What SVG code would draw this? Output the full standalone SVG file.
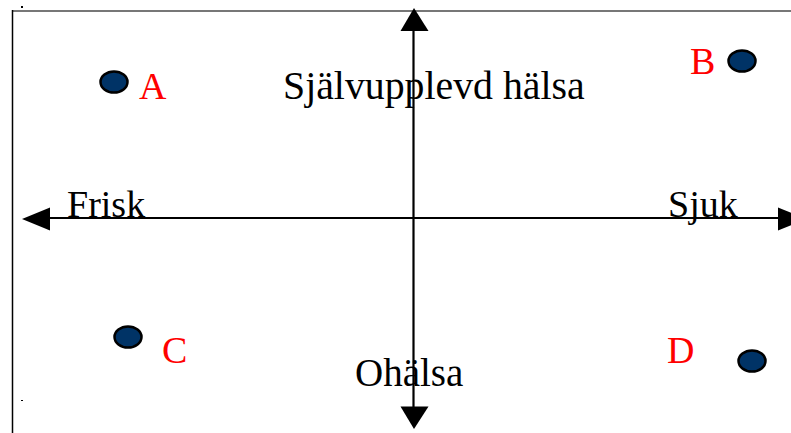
<svg xmlns="http://www.w3.org/2000/svg" width="791" height="433" viewBox="0 0 791 433">
<style>
.axis{stroke:#000;stroke-width:2.2;fill:none}
.head{fill:#000}
.dot{fill:#003366;stroke:#000;stroke-width:2.5}
.lbl{font-family:"Liberation Serif","Times New Roman",serif;font-size:38px;fill:#ff0000}
.txt{font-family:"Liberation Serif","Times New Roman",serif;font-size:39px;fill:#000}
</style>
<rect width="791" height="433" fill="#fff"/>
<g id="frame">
<line x1="12" y1="11" x2="791" y2="11" stroke="#777" stroke-width="2"/>
<line x1="12.5" y1="10" x2="12.5" y2="433" stroke="#000" stroke-width="1.5"/>
<rect x="21" y="6" width="2" height="2" fill="#000"/>
<rect x="21" y="400" width="2" height="1" fill="#000"/>
</g>
<g id="connectors">
<line class="axis" x1="48" y1="218" x2="780" y2="218"/>
<polygon class="head" points="22,219 50,207.5 50,230.5"/>
<polygon class="head" points="806,219 778,207.5 778,230.5"/>
<line class="axis" x1="413.5" y1="29" x2="413.5" y2="409"/>
<polygon class="head" points="414,8 400.5,31 428.5,31"/>
<polygon class="head" points="414,429 400.5,406.5 428.5,406.5"/>
</g>
<g id="label-y-top"><text class="txt" x="283" y="99" style="font-size:39.8px">Självupplevd hälsa</text></g>
<g id="label-y-bottom"><text class="txt" x="355" y="386">Ohälsa</text></g>
<g id="label-x-left"><text class="lbl" style="fill:#000" x="67" y="217">Frisk</text></g>
<g id="label-x-right"><text class="lbl" style="fill:#000" x="668" y="217">Sjuk</text></g>
<g id="node-A"><ellipse class="dot" cx="114" cy="82" rx="13.5" ry="10.5"/><text class="lbl" x="139" y="99">A</text></g>
<g id="node-B"><ellipse class="dot" cx="742" cy="61" rx="13.5" ry="10.5"/><text class="lbl" x="690" y="74">B</text></g>
<g id="node-C"><ellipse class="dot" cx="128" cy="337" rx="13.5" ry="10.5"/><text class="lbl" x="162" y="363">C</text></g>
<g id="node-D"><ellipse class="dot" cx="752" cy="361" rx="13.5" ry="10.5"/><text class="lbl" x="667" y="363">D</text></g>
</svg>
